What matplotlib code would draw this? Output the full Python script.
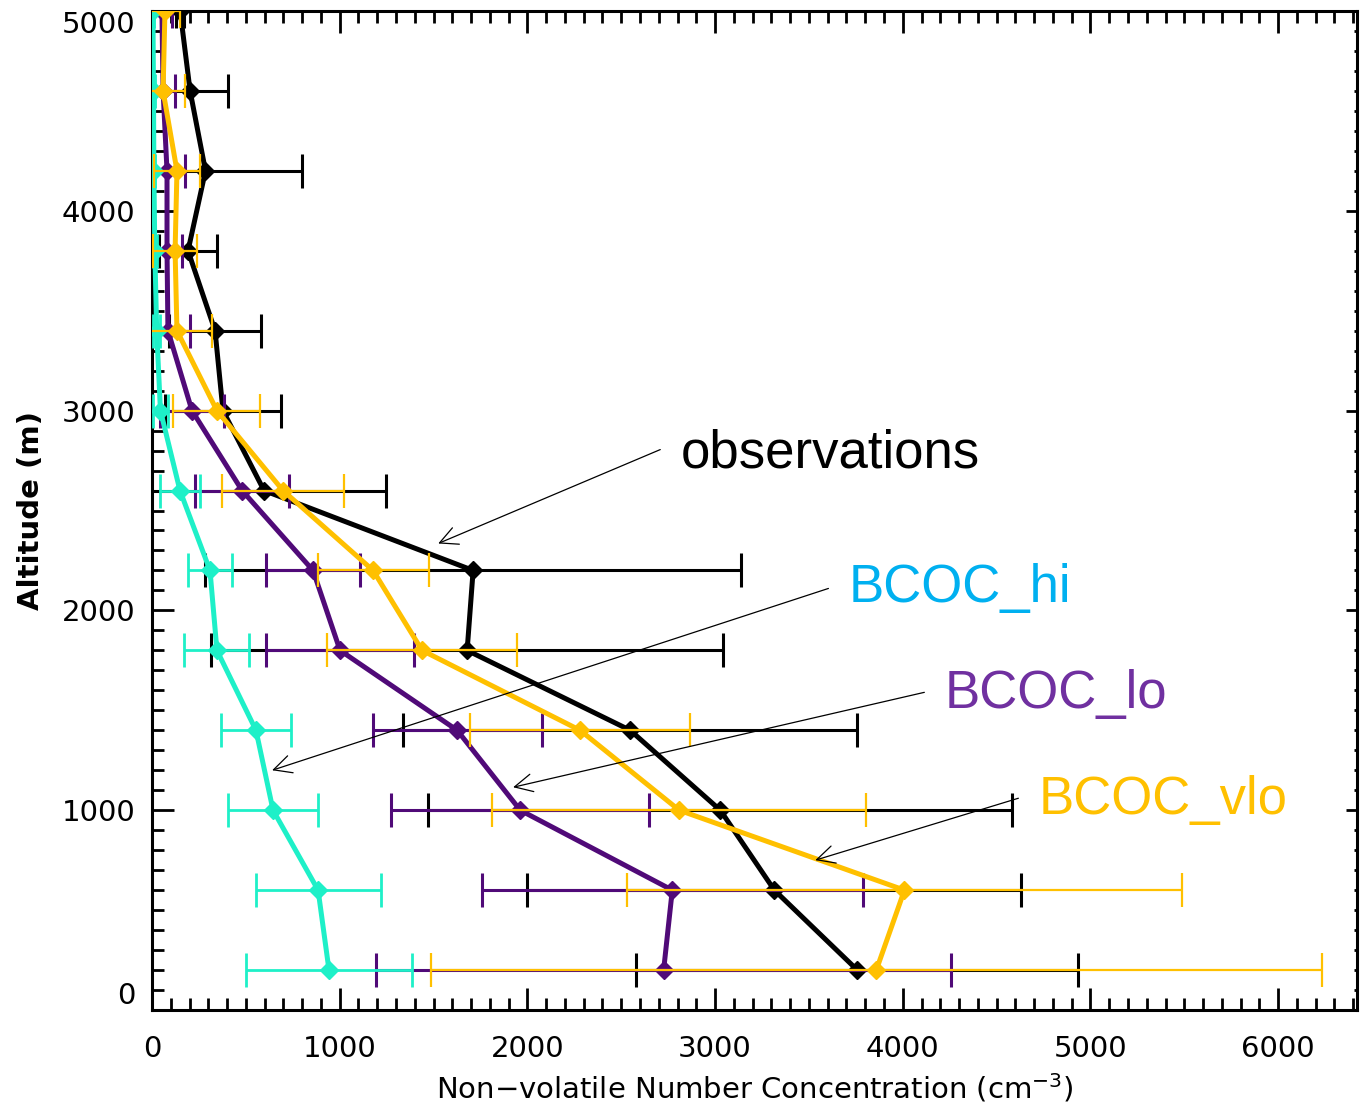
import numpy as np
import matplotlib
matplotlib.use('Agg')
import matplotlib.pyplot as plt
from matplotlib.ticker import MultipleLocator

# altitude bins (m)
alt = [200, 600, 1000, 1400, 1800, 2200, 2600, 3000, 3400, 3800, 4200, 4600, 5000]

# observed non-volatile number concentration and spread (cm-3)
obs = [3758, 3316, 3028, 2548, 1679, 1711, 597, 378, 336, 192, 285, 203, 150]
obs_err = [1178, 1316, 1556, 1210, 1365, 1429, 650, 310, 245, 154, 515, 202, 20]

# model runs
hi = [943, 885, 645, 554, 346, 309, 149, 45, 25, 15, 10, 8, 5]
hi_err = [440, 333, 240, 184, 173, 115, 107, 40, 20, 12, 8, 6, 4]

lo = [2726, 2772, 1962, 1626, 1002, 858, 480, 213, 85, 80, 80, 59, 53]
lo_err = [1530, 1015, 688, 450, 395, 248, 252, 170, 118, 80, 96, 64, 54]

vlo = [3859, 4009, 2809, 2281, 1439, 1178, 698, 346, 133, 123, 133, 59, 69]
vlo_err = [2375, 1480, 995, 585, 507, 296, 325, 232, 187, 117, 123, 117, 80]

c_obs = 'black'
c_hi = '#1ef0c8'
c_lo = '#500a78'
c_vlo = '#ffc000'

fig = plt.figure(figsize=(13.62, 11.12), dpi=100)
ax = fig.add_axes([0.1116, 0.0917, 0.8847, 0.8984])

def prof(x, xe, col, elw, z):
    ax.errorbar(x, alt, xerr=xe, fmt='-D', color=col, lw=3.6, ms=9,
                elinewidth=elw, capsize=12, capthick=elw, zorder=z)

prof(obs, obs_err, c_obs, 2.2, 2)
prof(lo, lo_err, c_lo, 2.2, 3)
prof(hi, hi_err, c_hi, 2.0, 4)
prof(vlo, vlo_err, c_vlo, 1.6, 5)

ax.set_xlim(0, 6420)
ax.set_ylim(0, 5000)

ax.xaxis.set_major_locator(MultipleLocator(1000))
ax.xaxis.set_minor_locator(MultipleLocator(100))
ax.yaxis.set_major_locator(MultipleLocator(1000))
ax.yaxis.set_minor_locator(MultipleLocator(100))
ax.tick_params(which='both', direction='in', top=True, right=False, width=2,
               labelsize=21, colors='black')
ax.tick_params(which='major', length=16)
ax.tick_params(which='minor', length=8.5)
ax.tick_params(axis='x', which='major', pad=18)
ax.tick_params(axis='y', which='major', pad=12)
for s in ax.spines.values():
    s.set_linewidth(2.2)

# shorter ticks on the right-hand side
sec = ax.secondary_yaxis('right')
sec.yaxis.set_major_locator(MultipleLocator(1000))
sec.yaxis.set_minor_locator(MultipleLocator(100))
sec.tick_params(which='both', direction='in', width=2, labelright=False)
sec.tick_params(which='major', length=8)
sec.tick_params(which='minor', length=2.5)

ax.set_xlabel('Non\u2212volatile Number Concentration (cm$^{-3}$)', fontsize=21, labelpad=6)
ax.set_ylabel('Altitude (m)', fontsize=21, fontweight='bold', labelpad=12)

# keep the end labels of the altitude axis inside the frame
fig.canvas.draw()
for t in ax.yaxis.get_major_ticks():
    if abs(t.get_loc()) < 1:
        t.label1.set_va('bottom')
    elif abs(t.get_loc() - 5000) < 1:
        t.label1.set_va('top')

# labels with pointer arrows
labels = [
    ('observations', c_obs, (2815, 2785), (2708, 2805), (1525, 2335)),
    ('BCOC_hi', '#00b0f0', (3710, 2110), (3604, 2110), (640, 1200)),
    ('BCOC_lo', '#7030a0', (4222, 1580), (4115, 1590), (1924, 1115)),
    ('BCOC_vlo', '#ffc000', (4723, 1050), (4616, 1060), (3534, 750)),
]
for txt, col, pos, tail, tip in labels:
    ax.text(pos[0], pos[1], txt, color=col, fontsize=38, family=['Liberation Sans'],
            ha='left', va='center', zorder=6)
    ax.annotate('', xy=tip, xytext=tail,
                arrowprops=dict(arrowstyle='->', lw=0.9, color='black',
                                mutation_scale=32, shrinkA=0, shrinkB=0),
                zorder=6)

fig.savefig('out.png', dpi=100)
